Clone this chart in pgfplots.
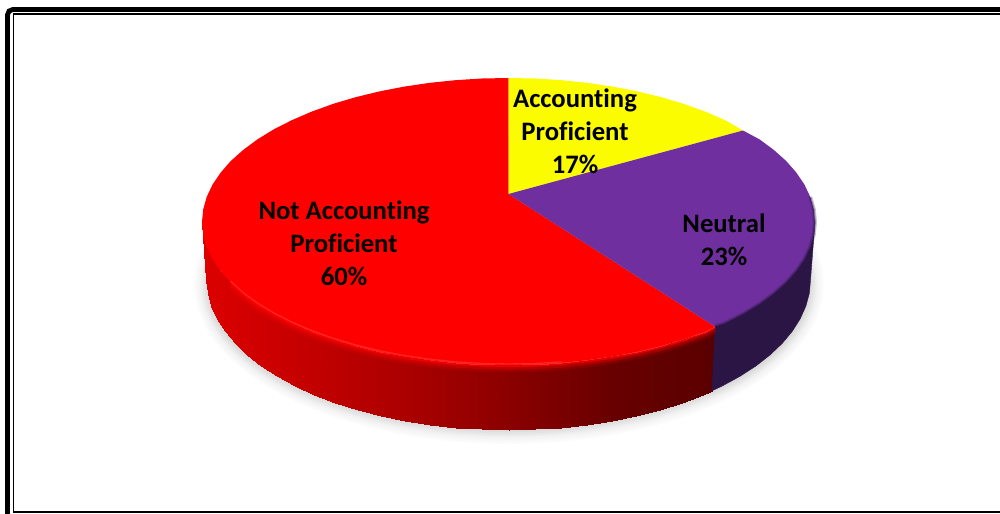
\documentclass[border=0pt]{standalone}
\usepackage{pgfplots}
\pgfplotsset{compat=1.18}
\usepackage{pgfplotstable}
\usepackage{fontspec}
\setmainfont{Carlito}[Ligatures=NoCommon]
\definecolor{pieYellow}{HTML}{FCFC00}
\definecolor{piePurple}{HTML}{702F9F}
\definecolor{pieRed}{HTML}{FF0000}
\definecolor{sidePurple}{HTML}{2B1545}
\pgfplotstableread{
x y
202 222
203.2 234.5
206.7 246.8
212.5 259
220.5 270.9
230.7 282.4
243.1 293.5
257.4 304
273.7 313.9
291.8 323.1
311.5 331.5
332.7 339.1
355.2 345.8
379 351.6
403.7 356.4
429.2 360.1
455.3 362.8
481.8 364.5
508.5 365
535.2 364.5
561.7 362.8
587.8 360.1
613.3 356.4
638 351.6
661.8 345.8
684.3 339.1
705.5 331.5
715 326.5
}\rimred
\pgfplotstableread{
x y
715 326.5
725.2 323.1
743.3 313.9
759.6 304
773.9 293.5
786.3 282.4
796.5 270.9
804.5 259
810.3 246.8
813.8 234.5
815 222
813.8 209.4
810.3 197
}\rimpurple
\pgfplotstableread{
x y
202 222
206.5 280
203.2 234.5
207.6 293.1
206.7 246.8
211.1 306
212.5 259
216.8 318.8
220.5 270.9
224.7 331.3
230.7 282.4
234.8 343.4
243.1 293.5
247 355
257.4 304
261.1 366
273.7 313.9
277.2 376.4
291.8 323.1
295 386.1
311.5 331.5
314.4 394.9
332.7 339.1
335.3 402.9
355.2 345.8
357.5 409.9
379 351.6
380.9 415.9
403.7 356.4
405.2 421
429.2 360.1
430.3 424.9
455.3 362.8
456.1 427.7
481.8 364.5
482.2 429.4
508.5 365
508.5 430
535.2 364.5
534.8 429.4
561.7 362.8
560.9 427.7
587.8 360.1
586.7 424.9
613.3 356.4
611.8 421
638 351.6
636.1 415.9
661.8 345.8
659.5 409.9
684.3 339.1
681.7 402.9
705.5 331.5
702.6 394.9
715 326.5
712 390.8
}\sidered
\begin{document}
\begin{tikzpicture}
\begin{axis}[
  scale only axis, width=750pt, height=385.5pt,
  xmin=0, xmax=1000, ymin=0, ymax=514, y dir=reverse,
  hide axis, clip=true,
  point meta min=205, point meta max=715,
  colormap={redside}{rgb255=(220,0,0) rgb255=(196,0,0) rgb255=(170,0,0) rgb255=(138,0,0) rgb255=(104,0,0) rgb255=(90,0,0)},
]
% soft drop shadow
\foreach \ar/\br/\g in {315/160/99, 313.5/158.5/98, 312/157/97, 310.5/155.5/96, 309/154/95, 307.5/152.5/93, 306/151/91, 304.5/149.5/89, 303/148/87, 301.5/146.5/85}{
  \edef\temp{\noexpand\fill[black!\the\numexpr100-\g\relax!white] (axis cs:509,284) ellipse [x radius=\ar, y radius=\br];}
  \temp
}
% red side, shaded along x
\addplot[surf, shader=interp, mesh/cols=2, point meta=x, forget plot] table[x=x,y=y] {\sidered};
% purple side
\addplot[fill=sidePurple, draw=sidePurple, line width=0.3pt, forget plot] coordinates {
(715,326.5)(725.2,323.1)(743.3,313.9)(759.6,304)(773.9,293.5)(786.3,282.4)(796.5,270.9)(804.5,259)(810.3,246.8)(813.8,234.5)(815,222)
(810.5,280)(809.4,293.1)(805.9,306)(800.2,318.8)(792.3,331.3)(782.2,343.4)(770,355)(755.9,366)(739.8,376.4)(722,386.1)(712,390.8)
} -- cycle;
% top face: red 60
\addplot[fill=pieRed, draw=none, forget plot] coordinates {
(508.5,194)(715,326.5)(705.5,331.5)(684.3,339.1)(661.8,345.8)(638,351.6)(613.3,356.4)(587.8,360.1)(561.7,362.8)(535.2,364.5)(508.5,365)
(481.8,364.5)(455.3,362.8)(429.2,360.1)(403.7,356.4)(379,351.6)(355.2,345.8)(332.7,339.1)(311.5,331.5)(291.8,323.1)(273.7,313.9)(257.4,304)(243.1,293.5)(230.7,282.4)(220.5,270.9)(212.5,259)(206.7,246.8)(203.2,234.5)(202,222)
(203.2,209.4)(206.7,197)(212.5,184.7)(220.5,172.8)(230.7,161.1)(243.1,150)(257.4,139.4)(273.7,129.4)(291.8,120.2)(311.5,111.7)(332.7,104)(355.2,97.3)(379,91.5)(403.7,86.7)(429.2,82.9)(455.3,80.2)(481.8,78.5)(508.5,78)
} -- cycle;
% top face: yellow 17
\addplot[fill=pieYellow, draw=none, forget plot] coordinates {
(508.5,194)(508.5,78)(535.2,78.5)(561.7,80.2)(587.8,82.9)(613.3,86.7)(638,91.5)(661.8,97.3)(684.3,104)(705.5,111.7)(725.2,120.2)(743,130.5)
} -- cycle;
% top face: purple 23
\addplot[fill=piePurple, draw=none, forget plot] coordinates {
(508.5,194)(743,130.5)(759.6,139.4)(773.9,150)(786.3,161.1)(796.5,172.8)(804.5,184.7)(810.3,197)(813.8,209.4)(815,222)
(813.8,234.5)(810.3,246.8)(804.5,259)(796.5,270.9)(786.3,282.4)(773.9,293.5)(759.6,304)(743.3,313.9)(725.2,323.1)(715,326.5)
} -- cycle;
% bevel along the rim
\addplot[no marks, line width=5pt, draw=pieRed, opacity=0.15, forget plot, skip coords between index={0}{5}] table[x=x, y expr=\thisrow{y}+4] {\rimred};
\addplot[no marks, line width=3.5pt, draw=pieRed, opacity=0.3, forget plot, skip coords between index={0}{5}] table[x=x, y expr=\thisrow{y}+2.5] {\rimred};
\addplot[no marks, line width=1.8pt, draw=pieRed, opacity=0.7, forget plot, skip coords between index={0}{5}] table[x=x, y expr=\thisrow{y}+1] {\rimred};
\addplot[no marks, line width=1pt, draw={rgb,255:red,255;green,35;blue,35}, forget plot, skip coords between index={0}{5}, skip coords between index={21}{30}] table[x=x, y expr=\thisrow{y}-1] {\rimred};
\addplot[no marks, line width=3pt, draw=sidePurple, opacity=0.25, forget plot] table[x=x, y=y] {\rimpurple};
\addplot[no marks, line width=1.4pt, draw=sidePurple, opacity=0.35, forget plot] table[x=x, y=y] {\rimpurple};
% labels
\node[align=center, font=\fontsize{20}{24.75}\selectfont\bfseries, text=black] at (axis cs:575,131) {Accounting\\Proficient\\17\%};
\node[align=center, font=\fontsize{20}{24.75}\selectfont\bfseries, text=black] at (axis cs:724,239.5) {Neutral\\23\%};
\node[align=center, font=\fontsize{20}{24.75}\selectfont\bfseries, text=black] at (axis cs:344,243) {Not Accounting\\Proficient\\60\%};
% frame
\draw[black, line width=3.6pt, rounded corners=4pt] (axis cs:7.5,9.5) rectangle (axis cs:1012,525);
\draw[black, line width=1.2pt] (axis cs:13.5,14) rectangle (axis cs:1008,512);
\end{axis}
\pgfresetboundingbox
\path[use as bounding box] (0,0) rectangle (750pt,385.5pt);
\end{tikzpicture}
\end{document}
